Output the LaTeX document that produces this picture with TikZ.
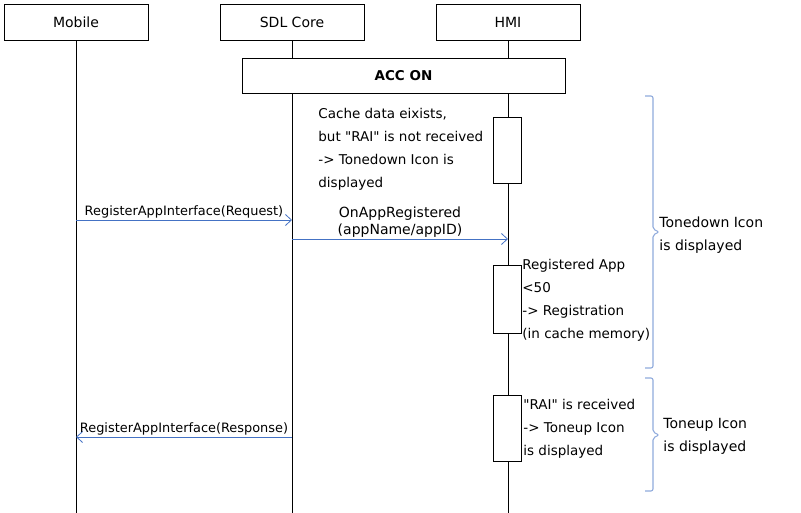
\documentclass[tikz,border=0pt]{standalone}
\usepackage{fontspec}
\setmainfont{DejaVu Sans}[Ligatures=TeXOff]
\usetikzlibrary{arrows.meta}
\definecolor{msgblue}{RGB}{68,114,196}
\definecolor{braceblue}{RGB}{143,170,220}
\begin{document}
\begin{tikzpicture}[x=1pt,y=-1pt,line width=.8pt,
    actor/.style={draw,minimum width=144pt,minimum height=36pt,inner sep=0pt,
      font=\fontsize{14}{15}\selectfont},
    actbox/.style={draw,fill=white,minimum width=28pt,inner sep=0pt},
    note/.style={align=left,inner sep=0pt,anchor=north west,
      font=\fontsize{13.5}{23}\selectfont},
    msg/.style={draw=msgblue,-{Straight Barb[length=6pt,width=11pt,line width=.8pt]}},
    msglbl/.style={font=\fontsize{12.9}{14}\selectfont,inner sep=1.5pt},
    bracket/.style={draw=braceblue,line width=1.1pt,rounded corners=2pt}]
  \useasboundingbox (0,0) rectangle (801,513);
  % lifelines
  \node[actor] (mob) at (76,22) {Mobile};
  \node[actor] (sdl) at (292,22) {SDL Core};
  \node[actor] (hmi) at (508,22) {HMI};
  \coordinate (mobend) at (76,513); \coordinate (sdlend) at (292,513);
  \coordinate (hmiend) at (508,513);
  \draw (mob) -- (mobend); \draw (sdl) -- (sdlend); \draw (hmi) -- (hmiend);
  \node[draw,fill=white,minimum width=323pt,minimum height=35pt,
    font=\fontsize{13.5}{15}\selectfont\bfseries] (acc) at (403.5,75.5) {ACC ON};
  % activations on HMI
  \node[actbox,minimum height=66pt] (act1) at (507.5,150) {};
  \node[actbox,minimum height=68pt] (act2) at (507.5,299) {};
  \node[actbox,minimum height=66pt] (act3) at (507.5,428) {};
  \node[note] (txt1) at (318,108) {Cache data eixists,\\but "RAI" is not received\\-> Tonedown Icon is\\displayed};
  \node[note] (txt2) at (522,259) {Registered App\\<50\\-> Registration\\(in cache memory)};
  \node[note] (txt3) at (523,399) {"RAI" is received\\-> Toneup Icon\\is displayed};
  % messages
  \coordinate (req1) at (76,220); \coordinate (req2) at (292,220);
  \draw[msg] (req1) -- node[msglbl,above] {RegisterAppInterface(Request)} (req2);
  \coordinate (reg1) at (292,239); \coordinate (reg2) at (508,239);
  \draw[msg] (reg1) -- (reg2);
  \node[align=center,inner sep=0pt,font=\fontsize{14}{17}\selectfont] (reglbl)
    at (400,222) {OnAppRegistered\\(appName/appID)};
  \coordinate (res1) at (292,437); \coordinate (res2) at (76,437);
  \draw[msg] (res1) -- node[msglbl,above] {RegisterAppInterface(Response)} (res2);
  % brackets
  \draw[bracket] (645,96) -- (653,96) -- (653,229) -- (659,232) -- (653,235)
    -- (653,368) -- (645,368);
  \node[note,font=\fontsize{14}{23}\selectfont] (down) at (659,216) {Tonedown Icon\\is displayed};
  \draw[bracket] (645,378) -- (653,378) -- (653,432) -- (659,435) -- (653,438)
    -- (653,491) -- (645,491);
  \node[note,font=\fontsize{14}{23}\selectfont] (up) at (663,418) {Toneup Icon\\is displayed};
\end{tikzpicture}
\end{document}
